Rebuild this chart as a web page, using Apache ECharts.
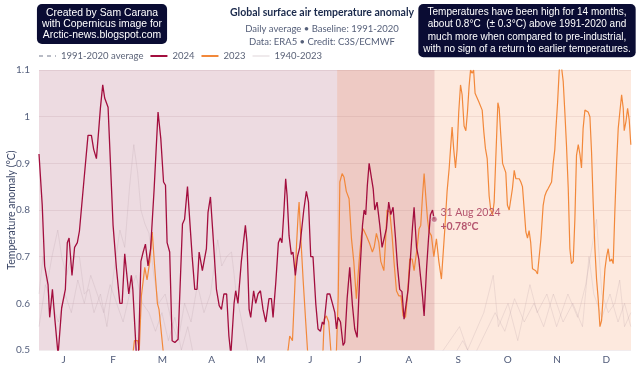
<!DOCTYPE html>
<html>
<head>
<meta charset="utf-8">
<script src="https://cdn.jsdelivr.net/npm/echarts@6/dist/echarts.min.js"></script>
<style>
  html, body { margin: 0; padding: 0; background: #fff; }
  #main { width: 640px; height: 375px; }
</style>
</head>
<body>
<div id="main"></div>
<script>
// month initials, placed at the middle of each month
var months = ['J', 'F', 'M', 'A', 'M', 'J', 'J', 'A', 'S', 'O', 'N', 'D'];

// [day of year, anomaly °C]
var data2024 = [
  [0,0.92],[2,0.81],[3.5,0.68],[5.6,0.64],[6.6,0.57],[8.3,0.63],[9.7,0.57],[11.8,0.49],[14,0.59],[16.3,0.63],
  [17.5,0.73],[18.6,0.74],[20.4,0.66],[22,0.72],[23.7,0.73],[25,0.755],[27.7,0.86],[28.7,0.86],[30.3,0.96],[32.4,0.96],
  [33.8,0.93],[35.5,0.91],[37,0.975],[38,1.02],[39.4,1.068],[40.6,1.04],[42.7,1.02],[45.8,0.767],[47.9,0.674],[50,0.60],
  [51.4,0.60],[53,0.706],[55.5,0.62],[57.1,0.66],[58,0.63],[60.2,0.49],[61.5,0.49],[63,0.69],[64.4,0.71],[65.8,0.727],
  [67.4,0.68],[69,0.717],[71.2,0.846],[73.6,1.01],[75.3,0.953],[77,0.86],[78.2,0.853],[79.2,0.73],[80.8,0.71],[82.3,0.52],
  [84,0.516],[86,0.523],[88.7,0.77],[90,0.78],[91.8,0.85],[92.8,0.85],[94.7,0.70],[96.3,0.63],[97.7,0.63],[99,0.71],
  [100,0.71],[101,0.67],[102,0.67],[103.5,0.717],[104.5,0.795],[106,0.828],[107.6,0.745],[109.7,0.63],[111.4,0.595],[112.8,0.587],
  [114.3,0.62],[116,0.62],[117.4,0.53],[118.6,0.49],[120.6,0.60],[121.6,0.627],[123,0.60],[125.1,0.69],[127.6,0.767],[128.6,0.73],
  [129.9,0.587],[130.9,0.57],[132.7,0.627],[134,0.60],[135.4,0.62],[136.9,0.627],[138.5,0.587],[140.2,0.56],[141,0.56],[142.2,0.61],
  [143.7,0.61],[144.7,0.57],[146.4,0.645],[148,0.73],[149.2,0.74],[150.2,0.73],[151.3,0.79],[152.5,0.867],[153.4,0.83],[154.6,0.745],
  [156,0.705],[157,0.71],[158.5,0.66],[159.8,0.70],[161.2,0.72],[162.2,0.72],[163.7,0.80],[165.3,0.84],[166.6,0.817],[168,0.70],
  [169.4,0.70],[171.1,0.60],[172.5,0.545],[174,0.54],[175.2,0.56],[176.2,0.555],[178.1,0.62],[179.8,0.62],[181.4,0.60],[182.9,0.58],
  [183.9,0.545],[184.9,0.57],[186.4,0.56],[188,0.51],[189,0.516],[190.5,0.61],[192.1,0.677],[193.8,0.595],[195.2,0.545],[196.7,0.527],
  [198.3,0.66],[200,0.767],[201,0.80],[202,0.79],[203,0.853],[204.1,0.90],[205.3,0.90],[206.6,0.846],[207.6,0.80],[209,0.817],
  [210.7,0.767],[212.1,0.72],[213.3,0.72],[214.8,0.76],[216.2,0.817],[217.5,0.79],[218.9,0.806],[220.4,0.74],[221.6,0.68],[223,0.63],
  [224.4,0.625],[225.7,0.566],[226.8,0.57],[228.2,0.63],[229.7,0.70],[230.9,0.763],[231.9,0.806],[233.4,0.72],[234.8,0.695],[235.8,0.66],
  [237.1,0.616],[238.1,0.573],[239.6,0.674],[240.8,0.738],[242,0.79],[243.3,0.80],[244.3,0.78]
];

var data2023 = [
  [0,0.40],[15,0.35],[30,0.42],[45,0.38],[56,0.46],[58,0.49],[59,0.52],[61,0.52],[62,0.50],[63.3,0.616],
  [65.4,0.677],[66.8,0.65],[68.5,0.69],[70,0.753],[71.6,0.674],[73.2,0.60],[74.2,0.587],[75.3,0.587],[76.7,0.50],[78,0.45],
  [95,0.40],[115,0.38],[135,0.40],[150,0.45],[154,0.50],[155,0.53],[156.7,0.52],[158.1,0.63],[159.1,0.717],[160.2,0.79],
  [160.8,0.817],[161.8,0.745],[163.3,0.65],[164.9,0.56],[166,0.50],[168,0.45],[173,0.46],[175.6,0.50],[176.3,0.566],[177.7,0.573],
  [179.1,0.56],[180.4,0.50],[182,0.46],[183.9,0.50],[185,0.616],[186,0.86],[187.4,0.878],[188.6,0.87],[190,0.84],[191.7,0.824],
  [193.2,0.738],[194.6,0.69],[196.2,0.61],[197.9,0.69],[199.3,0.745],[200.4,0.76],[202.4,0.745],[204.5,0.727],[206.1,0.71],[207.2,0.72],
  [208.6,0.75],[210.1,0.73],[211.3,0.69],[212.3,0.688],[213.2,0.67],[214.2,0.73],[215.2,0.80],[216.9,0.795],[218.3,0.745],[219.5,0.688],
  [221,0.627],[222.4,0.616],[223.8,0.616],[225.1,0.573],[226.6,0.57],[227.8,0.616],[229.2,0.695],[230.7,0.695],[231.9,0.67],[233,0.67],
  [233.8,0.72],[235,0.76],[236,0.767],[237.1,0.83],[238.1,0.878],[239.1,0.83],[240.2,0.78],[241.2,0.753],[242.6,0.745],[244.1,0.70],
  [245.7,0.738],[247.2,0.69],[248.8,0.652],[249.8,0.655],[250.9,0.76],[252.3,0.84],[253.6,0.89],[254.4,0.93],[255.4,0.978],[256.4,0.93],
  [257.5,0.89],[258.5,0.93],[259.5,1.01],[260.6,1.068],[261.6,1.047],[262.8,0.98],[263.9,0.97],[264.9,1.01],[265.9,1.065],[266.8,1.10],
  [267.8,1.093],[268.7,1.10],[269.6,1.05],[270.8,1.05],[271.9,1.032],[273,1.03],[274,1.014],[275,0.968],[276,0.932],[277.1,0.91],
  [278.3,0.83],[279.3,0.80],[280.4,0.79],[281.4,0.817],[282.4,0.91],[283.7,1.03],[284.5,1.018],[285.5,0.96],[286.6,0.90],[287.6,0.896],
  [288.6,0.88],[289.6,0.81],[290.7,0.80],[291.6,0.80],[292.7,0.846],[293.8,0.885],[294.8,0.867],[295.8,0.864],[296.9,0.867],[297.9,0.86],
  [298.9,0.85],[300,0.80],[301,0.753],[302,0.74],[303,0.756],[304,0.73],[305.1,0.674],[306.1,0.67],[307.1,0.67],[308.2,0.663],
  [309.2,0.66],[310.3,0.738],[311.7,0.81],[312.7,0.83],[313.8,0.84],[314.8,0.846],[315.8,0.843],[316.9,0.86],[317.9,0.90],[318.9,0.93],
  [319.5,0.97],[320.6,1.03],[321.6,1.097],[322.4,1.125],[323.4,1.125],[324.1,1.075],[325.1,1.01],[326.1,0.94],[327.2,0.846],[328.2,0.717],
  [329.2,0.685],[330.3,0.69],[331.3,0.78],[332.3,0.917],[333.4,0.94],[334.4,0.92],[335.4,0.89],[336.4,0.975],[337.5,1.014],[338.5,1.018],
  [339.5,1.01],[340.6,1.0],[341.6,0.925],[342.6,0.817],[343.7,0.717],[344.7,0.652],[345.7,0.61],[346.8,0.55],[347.8,0.563],[348.8,0.616],
  [349.9,0.674],[350.9,0.70],[351.9,0.717],[352.9,0.69],[354,0.695],[355,0.685],[356,0.795],[357.1,0.90],[358.1,0.975],[359.1,1.01],
  [360.2,1.047],[361.2,1.018],[361.8,0.97],[362.9,0.99],[363.9,1.018],[364.9,0.993],[365.9,0.94]
];

// a couple of the faint 1940-2023 years that poke above 0.5
var pastA = [
  [0,0.62],[2.5,0.70],[5,0.64],[8,0.70],[11.6,0.757],[14,0.70],[17,0.66],[20,0.70],[25,0.70],[28,0.62],
  [31,0.63],[34,0.58],[38,0.62],[42,0.55],[46,0.66],[50,0.757],[53,0.72],[56,0.85],[58.6,0.94],[61,0.88],
  [63,0.80],[65.5,0.77],[68,0.75],[71,0.66],[74,0.60],[78,0.62],[82,0.56],[86,0.52],[90,0.60],[94,0.56],
  [98,0.64],[102,0.58],[106,0.62],[110.5,0.736],[113,0.68],[116,0.70],[119,0.71],[122,0.62],[126,0.55],[130,0.48],
  [160,0.40],[200,0.40],[240,0.45],[260,0.55],[265,0.50],[275,0.58],[280.8,0.66],[284,0.55],[290,0.60],[296,0.52],
  [303.5,0.64],[308,0.58],[314,0.62],[320,0.55],[327,0.62],[333,0.57],[338,0.64],[344.7,0.78],[348,0.62],[352,0.58],
  [356,0.60],[359,0.65],[362,0.55],[365.9,0.58]
];
var pastB = [
  [0,0.55],[4,0.64],[8,0.60],[12,0.56],[16,0.62],[20,0.58],[24,0.65],[28,0.60],[32,0.66],[36,0.62],
  [40,0.58],[44,0.64],[48,0.60],[52,0.56],[56,0.62],[60,0.66],[64,0.60],[68,0.58],[72,0.54],[76,0.58],
  [80,0.52],[84,0.57],[88,0.50],[92,0.55],[96,0.48],[120,0.45],[160,0.42],[250,0.45],[262,0.52],[268,0.48],
  [282,0.58],[288,0.54],[294,0.61],[300,0.56],[306,0.60],[312,0.55],[318,0.62],[324,0.56],[330,0.60],[336,0.55],
  [340,0.70],[343,0.62],[348,0.57],[353,0.62],[358,0.56],[362,0.60],[365.9,0.55]
];
var baseline = [[0, 0], [366, 0]];

// shaded spans: 2024 so far, 2023 from early July
var span2024 = [0, 244.5];
var span2023 = [184.3, 366];

var last = data2024[data2024.length - 1];
var font = 'Lato';
var chart = echarts.init(document.getElementById('main'));

var pastStyle = { color: 'rgba(175,150,158,0.2)', width: 1 };
var noDot = { opacity: 0 };

chart.setOption({
  animation: false,
  backgroundColor: '#fff',
  textStyle: { fontFamily: font },
  title: [
    {
      text: 'Global surface air temperature anomaly',
      subtext: 'Daily average \u2022 Baseline: 1991-2020\nData: ERA5 \u2022 Credit: C3S/ECMWF',
      left: 317, top: 1, textAlign: 'center', itemGap: 2,
      textStyle: { fontFamily: font, fontSize: 10.5, fontWeight: 'bold', color: '#1b2a4c', lineHeight: 14 },
      subtextStyle: { fontFamily: font, fontSize: 9.5, color: '#56607a', lineHeight: 13 }
    },
    {
      text: 'Created by Sam Carana\nwith Copernicus image for\nArctic-news.blogspot.com',
      left: 97, top: 4, textAlign: 'center', padding: [3, 5, 3, 5],
      backgroundColor: '#0a0c33', borderRadius: 5,
      textStyle: { fontFamily: 'Liberation Sans', fontSize: 10.4, fontWeight: 'normal', color: '#fff', lineHeight: 11.3 }
    },
    {
      text: 'Temperatures have been high for 14 months,\nabout 0.8\u00b0C  (\u00b1 0.3\u00b0C) above 1991-2020 and\nmuch more when compared to pre-industrial,\nwith no sign of a return to earlier temperatures.',
      left: 522, top: 4, textAlign: 'center', padding: [2, 5, 2, 5],
      backgroundColor: '#0a0c33', borderRadius: 5,
      textStyle: { fontFamily: 'Liberation Sans', fontSize: 10, fontWeight: 'normal', color: '#fff', lineHeight: 12.3 }
    }
  ],
  legend: {
    left: 33, top: 46, itemWidth: 17, itemHeight: 8, itemGap: 6,
    itemStyle: noDot,
    textStyle: { fontFamily: font, fontSize: 9.5, color: '#5b6378' },
    data: ['1991-2020 average', '2024', '2023', '1940-2023']
  },
  grid: { left: 39, right: 9, top: 70, bottom: 25, outerBoundsMode: 'none', containLabel: false },
  xAxis: [
    {
      type: 'value', min: 0, max: 366,
      axisLine: { show: false }, axisTick: { show: false },
      axisLabel: { show: false }, splitLine: { show: false }
    },
    {
      type: 'category', data: months, boundaryGap: true, position: 'bottom',
      axisLine: { show: false }, axisTick: { show: false }, splitLine: { show: false },
      axisLabel: { fontFamily: font, fontSize: 10, color: '#4f5a78', margin: 5 }
    }
  ],
  yAxis: {
    type: 'value', min: 0.5, max: 1.1, interval: 0.1,
    name: 'Temperature anomaly (\u00b0C)', nameLocation: 'middle', nameGap: 22, nameMoveOverlap: false,
    nameTextStyle: { fontFamily: font, fontSize: 10.5, color: '#3b4666' },
    axisLine: { show: false }, axisTick: { show: false },
    axisLabel: { fontFamily: font, fontSize: 10, color: '#56617e', margin: 9 },
    splitLine: { lineStyle: { color: 'rgba(120,70,85,0.10)', width: 1 } }
  },
  series: [
    {
      name: '1991-2020 average', type: 'line', symbol: 'none', data: baseline,
      lineStyle: { color: '#b9bcc6', width: 1.2, type: [4, 4] }, itemStyle: noDot,
      markArea: {
        silent: true,
        data: [
          [{ xAxis: span2024[0], itemStyle: { color: 'rgba(140,30,70,0.16)' } }, { xAxis: span2024[1] }],
          [{ xAxis: span2023[0], itemStyle: { color: 'rgba(245,120,50,0.16)' } }, { xAxis: span2023[1] }]
        ]
      }
    },
    { name: '1940-2023', type: 'line', symbol: 'none', data: pastA, lineStyle: pastStyle, itemStyle: noDot },
    { name: '1940-2023', type: 'line', symbol: 'none', data: pastB, lineStyle: pastStyle, itemStyle: noDot },
    {
      name: '2023', type: 'line', symbol: 'none', data: data2023, z: 3,
      lineStyle: { color: '#f2883a', width: 1.2 }, itemStyle: noDot
    },
    {
      name: '2024', type: 'line', symbol: 'none', data: data2024, z: 4,
      lineStyle: { color: '#a30e3e', width: 1.3 }, itemStyle: noDot,
      markPoint: {
        symbol: 'circle', symbolSize: 6, silent: true,
        itemStyle: { color: 'rgba(185,95,120,0.75)', borderColor: '#fff', borderWidth: 0.5, opacity: 1 },
        label: {
          show: true, position: 'right', distance: 3,
          formatter: '31 Aug 2024\n{b|+' + last[1].toFixed(2) + '\u00b0C}',
          fontFamily: font, fontSize: 10.5, color: '#b5566f', lineHeight: 14,
          rich: { b: { fontFamily: font, fontSize: 10.5, fontWeight: 'bold', color: '#b5566f', lineHeight: 14 } }
        },
        data: [{ coord: last }]
      }
    }
  ]
});
</script>
</body>
</html>
